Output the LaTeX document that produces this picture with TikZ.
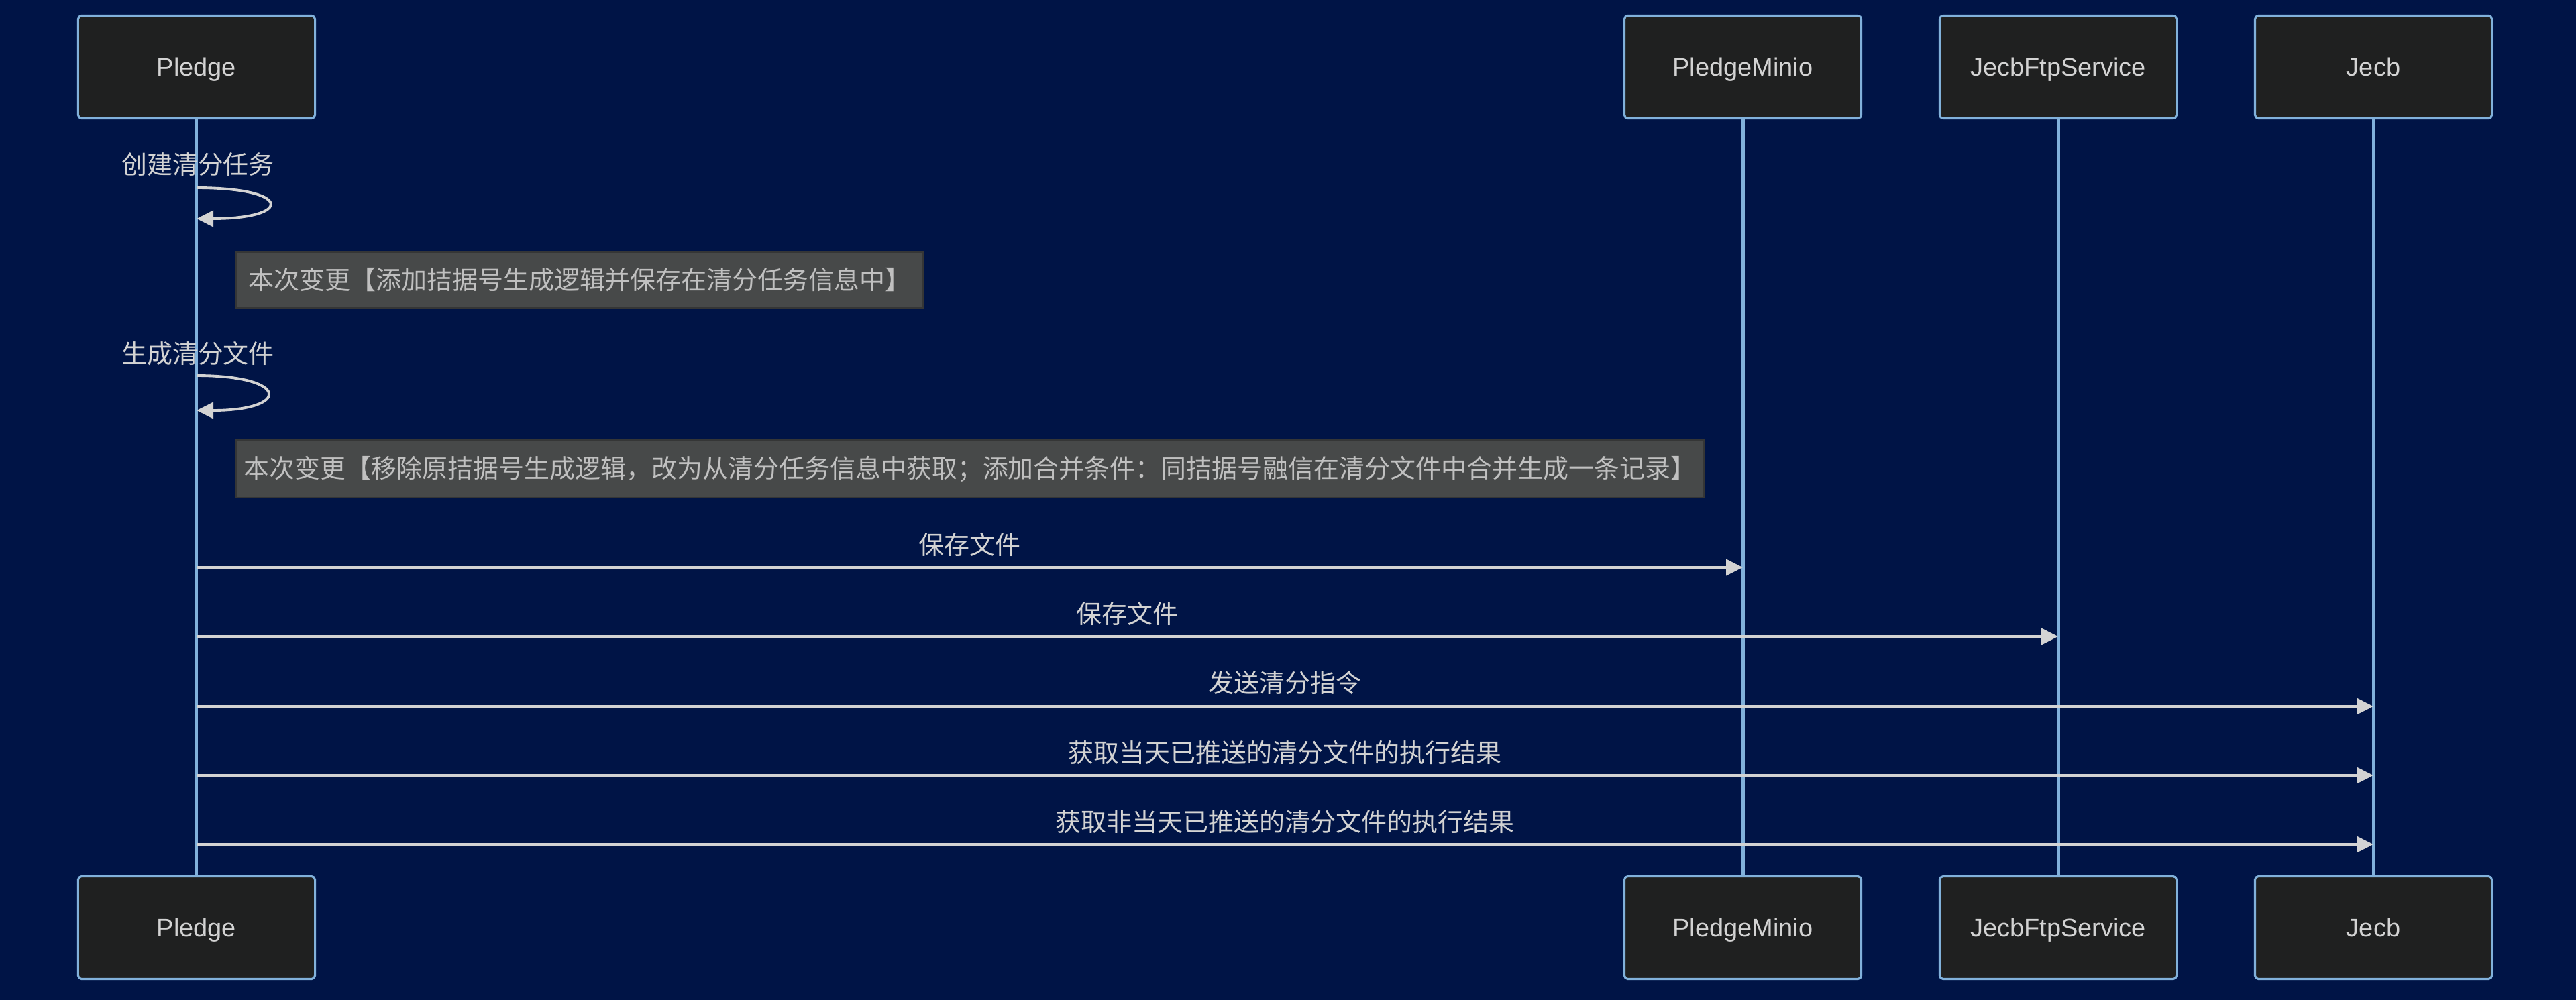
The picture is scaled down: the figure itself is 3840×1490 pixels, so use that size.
\documentclass[tikz,border=0pt]{standalone}
\usepackage{fontspec}
\setmainfont{Liberation Sans}
\newfontfamily\cjk{Noto Sans CJK SC}
\usetikzlibrary{arrows.meta}

\definecolor{bgnavy}{HTML}{001446}
\definecolor{actorfill}{HTML}{1F2020}
\definecolor{actorline}{HTML}{81B1DB}
\definecolor{msgline}{HTML}{D3D3D3}
\definecolor{notefill}{HTML}{474949}
\definecolor{noteline}{HTML}{353636}
\definecolor{notetext}{HTML}{C0C0C0}

\tikzset{
    actor/.style={draw=actorline, line width=0.9pt, fill=actorfill, rounded corners=1.5pt,
        minimum width=3.53cm, minimum height=1.53cm, text=msgline,
        text height=7.7pt, text depth=0pt,
        font=\fontsize{10.8pt}{13pt}\selectfont},
    lifeline/.style={draw=actorline, line width=1.4pt},
    msg/.style={->, color=msgline, line width=1.1pt},
    lbl/.style={midway, anchor=center, yshift=0.345cm, text=msgline,
        font=\fontsize{10.8pt}{13pt}\selectfont\cjk},
    selflbl/.style={text=msgline, font=\fontsize{10.8pt}{13pt}\selectfont\cjk},
    note/.style={draw=noteline, line width=0.6pt, fill=notefill, text=notetext,
        inner sep=0pt, font=\fontsize{10.8pt}{13pt}\selectfont\cjk}
}

\begin{document}
\begin{tikzpicture}[x=0.01cm, y=-0.01cm, >={Triangle[length=0.25cm, width=0.24cm]}]
    % background
    \useasboundingbox (0,0) rectangle (3840,1490);
    \fill [bgnavy] (-20,-20) rectangle (3860,1510);

    % Actors {top, bottom}
    \node [actor] (pledge)  at (293,100)   {Pledge};
    \node [actor] (minio)   at (2598,100)  {PledgeMinio};
    \node [actor] (ftp)     at (3068,100)  {JecbFtpService};
    \node [actor] (jecb)    at (3538,100)  {Jecb};
    \node [actor] (pledgeB) at (293,1383)  {Pledge};
    \node [actor] (minioB)  at (2598,1383) {PledgeMinio};
    \node [actor] (ftpB)    at (3068,1383) {JecbFtpService};
    \node [actor] (jecbB)   at (3538,1383) {Jecb};

    % Lifelines
    \path [lifeline] (pledge) edge (pledgeB);
    \path [lifeline] (minio)  edge (minioB);
    \path [lifeline] (ftp)    edge (ftpB);
    \path [lifeline] (jecb)   edge (jecbB);

    % Self messages
    \coordinate (s1a) at (293,280);
    \coordinate (s1b) at (293,326);
    \coordinate (s2a) at (293,560);
    \coordinate (s2b) at (293,612);
    \node [selflbl] (t1) at (295,245) {创建清分任务};
    \path [msg] (s1a) edge [out=0, in=0, looseness=8] (s1b);
    \node [note, minimum width=10.23cm, minimum height=0.83cm] (n1) at (864,417)
        {本次变更【添加拮据号生成逻辑并保存在清分任务信息中】};
    \node [selflbl] (t2) at (295,527) {生成清分文件};
    \path [msg] (s2a) edge [out=0, in=0, looseness=6.9] (s2b);
    \node [note, minimum width=21.87cm, minimum height=0.86cm] (n2) at (1446,699)
        {本次变更【移除原拮据号生成逻辑，改为从清分任务信息中获取；添加合并条件：同拮据号融信在清分文件中合并生成一条记录】};

    % Messages
    \coordinate (m1a) at (293,846);  \coordinate (m1b) at (2598,846);
    \coordinate (m2a) at (293,949);  \coordinate (m2b) at (3068,949);
    \coordinate (m3a) at (293,1053); \coordinate (m3b) at (3538,1053);
    \coordinate (m4a) at (293,1156); \coordinate (m4b) at (3538,1156);
    \coordinate (m5a) at (293,1259); \coordinate (m5b) at (3538,1259);
    \path [msg] (m1a) edge node [lbl] {保存文件} (m1b);
    \path [msg] (m2a) edge node [lbl] {保存文件} (m2b);
    \path [msg] (m3a) edge node [lbl] {发送清分指令} (m3b);
    \path [msg] (m4a) edge node [lbl] {获取当天已推送的清分文件的执行结果} (m4b);
    \path [msg] (m5a) edge node [lbl] {获取非当天已推送的清分文件的执行结果} (m5b);

\end{tikzpicture}
\end{document}
